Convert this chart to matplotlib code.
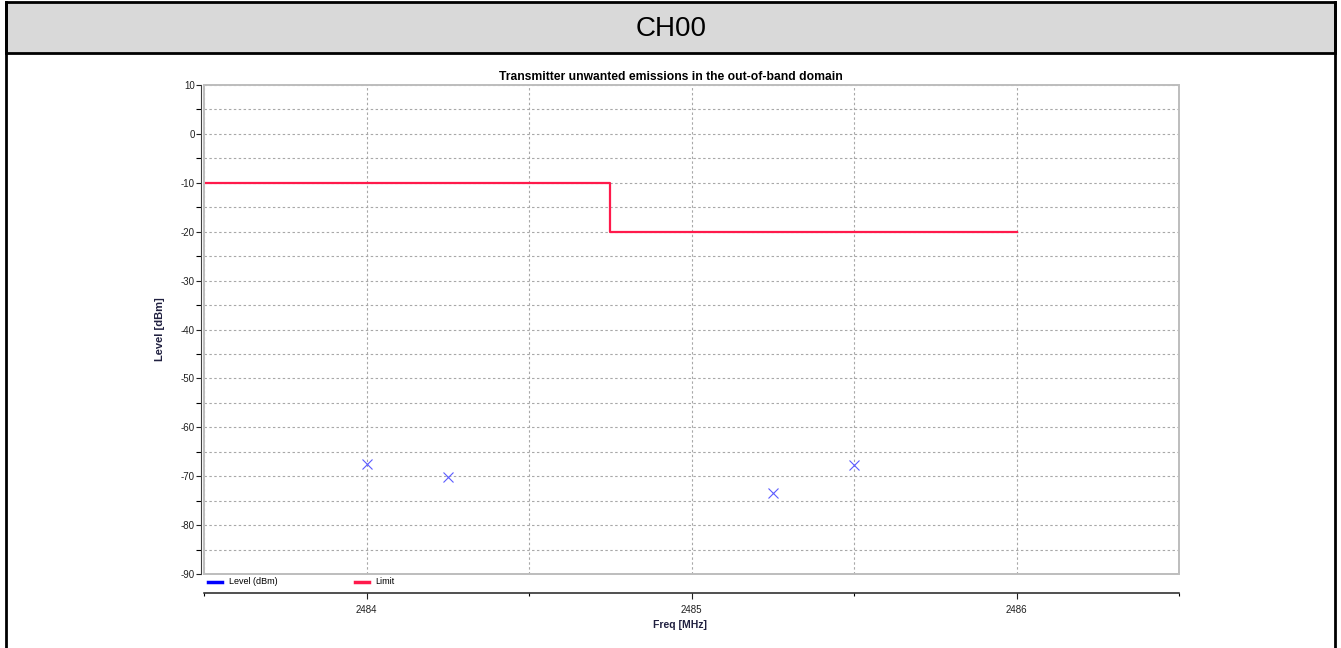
import matplotlib
matplotlib.use("Agg")
import matplotlib.pyplot as plt
from matplotlib.lines import Line2D
from matplotlib.patches import Rectangle
from matplotlib.ticker import MultipleLocator

plt.rcParams['font.family'] = ['Liberation Sans', 'DejaVu Sans']
plt.rcParams['axes.unicode_minus'] = False

# data
channel = "CH00"
title = "Transmitter unwanted emissions in the out-of-band domain"
meas_freq = [2484.0, 2484.25, 2485.25, 2485.5]
meas_level = [-67.6, -70.1, -73.4, -67.8]
limit_freq = [2483.5, 2484.75, 2486.0]
limit_level = [-10, -20, -20]
xticks = [2484, 2485, 2486]

W, H = 1341, 648
fig = plt.figure(figsize=(W / 100, H / 100), dpi=100)

def fx(px):
    return px / W

def fy(py):
    return 1 - py / H

# header box and outer frame
fig.add_artist(Rectangle((fx(6), fy(53)), fx(1335) - fx(6), fy(2) - fy(53),
                         transform=fig.transFigure, facecolor='#d9d9d9',
                         edgecolor='black', lw=2))
fig.add_artist(Line2D([fx(6), fx(6)], [0, fy(2)], transform=fig.transFigure, color='black', lw=2))
fig.add_artist(Line2D([fx(1335), fx(1335)], [0, fy(2)], transform=fig.transFigure, color='black', lw=2))
fig.text(fx(671), fy(29), channel, ha='center', va='center', fontsize=20)

ax = fig.add_axes([fx(204), fy(574), fx(1179) - fx(204), fy(85) - fy(574)])

red = '#ff1a4b'
ax.step(limit_freq, limit_level, where='post', color=red, lw=1.6, zorder=3)
ax.plot(meas_freq, meas_level, ls='none', marker='x', ms=7, mew=0.8, color='#5c5cff', zorder=4)

ax.set_xlim(2483.5, 2486.5)
ax.set_ylim(-90, 10)
ax.set_xticks(xticks)
ax.xaxis.set_minor_locator(MultipleLocator(0.5))
ax.yaxis.set_major_locator(MultipleLocator(10))
ax.yaxis.set_minor_locator(MultipleLocator(5))

ax.grid(True, which='both', color='#a8a8a8', ls=(0, (2.2, 2.2)), lw=0.8)
ax.set_axisbelow(True)

# light frame around plot area
ax.add_patch(Rectangle((0, 0), 1, 1, transform=ax.transAxes, fill=False,
                       edgecolor='#bdbdbd', lw=1.4, clip_on=False, zorder=5))
ax.spines['top'].set_visible(False)
ax.spines['right'].set_visible(False)
ax.spines['left'].set_position(('outward', 2.2))
ax.spines['left'].set_color('#404040')
ax.spines['bottom'].set_position(('outward', 14))
ax.spines['bottom'].set_color('#202020')
ax.spines['bottom'].set_linewidth(1.1)

ax.tick_params(axis='y', which='major', length=3.5, width=0.8, labelsize=7, pad=1, colors='#202020')
ax.tick_params(axis='y', which='minor', length=3.5, width=0.8)
ax.tick_params(axis='x', which='major', length=4, width=0.8, labelsize=7, pad=4, colors='#202020')
ax.tick_params(axis='x', which='minor', length=2.5, width=0.8)
ax.set_xticklabels([str(v) for v in xticks])

fig.text(fx(671), fy(77), title, ha='center', va='center', fontsize=8.7, fontweight='bold')
fig.text(fx(160), fy(329), "Level [dBm]", ha='center', va='center', rotation=90,
         fontsize=8, fontweight='bold', color='#202040')
fig.text(fx(680), fy(625), "Freq [MHz]", ha='center', va='center',
         fontsize=7.5, fontweight='bold', color='#202040')

# legend strip under plot area
fig.add_artist(Line2D([fx(208), fx(222)], [fy(582), fy(582)], transform=fig.transFigure, color='#0000ff', lw=2.5))
fig.text(fx(229), fy(581), "Level (dBm)", ha='left', va='center', fontsize=6.5)
fig.add_artist(Line2D([fx(355), fx(369)], [fy(582), fy(582)], transform=fig.transFigure, color=red, lw=2.5))
fig.text(fx(375), fy(581), "Limit", ha='left', va='center', fontsize=6.5)

fig.savefig("out.png", dpi=100)
